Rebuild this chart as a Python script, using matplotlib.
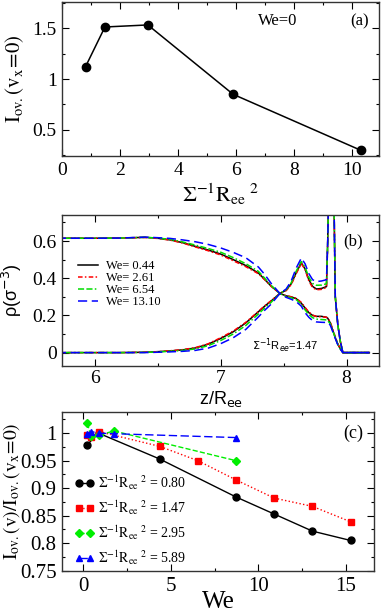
import numpy as np
import matplotlib
matplotlib.use("Agg")
import matplotlib.pyplot as plt
from matplotlib.ticker import MultipleLocator, FormatStrFormatter

plt.rcParams['font.family'] = ['Liberation Serif', 'DejaVu Serif']
plt.rcParams['mathtext.fontset'] = 'stix'

# panel (a)
sig_a = [0.80, 1.47, 2.95, 5.89, 10.3]
iov_a = [1.12, 1.51, 1.53, 0.85, 0.30]

# panel (b): density profiles, A = species decaying toward the wall, B = species rising
z_b = [5.70, 6.00, 6.20, 6.40, 6.50, 6.60, 6.70, 6.80, 6.90, 7.00, 7.10, 7.20,
       7.30, 7.35, 7.40, 7.47, 7.52, 7.56, 7.60, 7.64, 7.67, 7.70, 7.73, 7.76,
       7.80, 7.84, 7.85, 7.87, 7.89, 7.91, 7.93, 7.95, 7.97, 8.00, 8.18]

rhoA_044 = [0.615, 0.615, 0.616, 0.620, 0.615, 0.606, 0.591, 0.571, 0.552, 0.530, 0.500, 0.468,
            0.428, 0.393, 0.358, 0.318, 0.305, 0.300, 0.290, 0.266, 0.240, 0.215, 0.200, 0.195,
            0.195, 0.190, 0.185, 0.160, 0.120, 0.080, 0.045, 0.020, 0.000, 0.000, 0.000]
rhoB_044 = [0.000, 0.000, 0.000, 0.002, 0.005, 0.009, 0.015, 0.025, 0.045, 0.076, 0.112, 0.160,
            0.220, 0.250, 0.277, 0.318, 0.336, 0.370, 0.430, 0.483, 0.450, 0.392, 0.356, 0.342,
            0.345, 0.355, 0.600, 1.300, 1.300, 0.300, 0.150, 0.060, 0.000, 0.000, 0.000]

rhoA_261 = [0.615, 0.615, 0.616, 0.619, 0.614, 0.605, 0.589, 0.568, 0.548, 0.525, 0.494, 0.462,
            0.424, 0.392, 0.357, 0.318, 0.306, 0.300, 0.292, 0.270, 0.243, 0.218, 0.202, 0.194,
            0.193, 0.190, 0.186, 0.165, 0.125, 0.085, 0.048, 0.022, 0.000, 0.000, 0.000]
rhoB_261 = [0.000, 0.000, 0.000, 0.002, 0.005, 0.010, 0.016, 0.027, 0.047, 0.080, 0.116, 0.163,
            0.222, 0.252, 0.279, 0.318, 0.333, 0.365, 0.425, 0.478, 0.448, 0.385, 0.350, 0.338,
            0.340, 0.350, 0.600, 1.300, 1.300, 0.300, 0.150, 0.060, 0.000, 0.000, 0.000]

rhoA_654 = [0.615, 0.615, 0.616, 0.620, 0.616, 0.609, 0.595, 0.578, 0.560, 0.540, 0.511, 0.478,
            0.437, 0.400, 0.362, 0.318, 0.302, 0.295, 0.285, 0.260, 0.230, 0.205, 0.188, 0.180,
            0.178, 0.176, 0.172, 0.155, 0.118, 0.080, 0.045, 0.020, 0.000, 0.000, 0.000]
rhoB_654 = [0.000, 0.000, 0.000, 0.001, 0.004, 0.007, 0.012, 0.020, 0.037, 0.065, 0.100, 0.146,
            0.208, 0.240, 0.270, 0.318, 0.338, 0.375, 0.438, 0.490, 0.460, 0.405, 0.372, 0.362,
            0.363, 0.370, 0.600, 1.300, 1.300, 0.300, 0.150, 0.060, 0.000, 0.000, 0.000]

rhoA_1310 = [0.615, 0.615, 0.616, 0.621, 0.618, 0.614, 0.606, 0.596, 0.582, 0.563, 0.539, 0.510,
             0.460, 0.420, 0.373, 0.318, 0.297, 0.287, 0.274, 0.250, 0.215, 0.190, 0.172, 0.165,
             0.163, 0.162, 0.160, 0.148, 0.112, 0.076, 0.042, 0.018, 0.000, 0.000, 0.000]
rhoB_1310 = [0.000, 0.000, 0.000, 0.000, 0.002, 0.004, 0.007, 0.012, 0.024, 0.048, 0.080, 0.125,
             0.192, 0.228, 0.260, 0.318, 0.342, 0.385, 0.455, 0.508, 0.478, 0.425, 0.392, 0.382,
             0.385, 0.392, 0.600, 1.300, 1.300, 0.300, 0.150, 0.060, 0.000, 0.000, 0.000]

we_labels = ['We= 0.44', 'We= 2.61', 'We= 6.54', 'We= 13.10']

# panel (c)
we_080 = [0.22, 0.87, 4.36, 8.72, 10.9, 13.08, 15.26]
rat_080 = [0.979, 1.000, 0.953, 0.884, 0.853, 0.822, 0.805]
we_147 = [0.22, 0.44, 0.87, 4.36, 6.54, 8.72, 10.9, 13.08, 15.26]
rat_147 = [0.997, 0.993, 1.003, 0.976, 0.950, 0.915, 0.882, 0.867, 0.839]
we_295 = [0.22, 0.44, 0.87, 1.74, 8.72]
rat_295 = [1.018, 0.995, 0.996, 1.004, 0.950]
we_589 = [0.22, 0.44, 0.87, 1.74, 8.72]
rat_589 = [0.998, 1.003, 1.000, 0.999, 0.992]
sig_labels = ['0.80', '1.47', '2.95', '5.89']

W, H = 382, 613
fig = plt.figure(figsize=(W / 100, H / 100), dpi=100)


def px_axes(x0, x1, y0, y1):
    return fig.add_axes([x0 / W, 1 - y1 / H, (x1 - x0) / W, (y1 - y0) / H])


def style(ax, xmaj, xmin, ymaj, ymin, size=14, xpad=4):
    ax.xaxis.set_major_locator(MultipleLocator(xmaj))
    ax.xaxis.set_minor_locator(MultipleLocator(xmin))
    ax.yaxis.set_major_locator(MultipleLocator(ymaj))
    ax.yaxis.set_minor_locator(MultipleLocator(ymin))
    ax.yaxis.set_major_formatter(FormatStrFormatter('%g'))
    ax.xaxis.set_major_formatter(FormatStrFormatter('%g'))
    ax.tick_params(which='both', direction='in', top=True, right=True, labelsize=size, width=0.8)
    ax.tick_params(which='major', length=5, pad=4)
    ax.tick_params(axis='x', which='major', pad=xpad)
    ax.tick_params(which='minor', length=2.5)
    for s in ax.spines.values():
        s.set_linewidth(1.0)
        s.set_color('#333333')


# ---- (a)
ax1 = px_axes(62.3, 379, 2, 156)
ax1.plot(sig_a, iov_a, color='black', lw=1.1, marker='o', ms=6)
ax1.set_xlim(0, 10.92)
ax1.set_ylim(0.245, 1.755)
style(ax1, 2, 1, 0.5, 0.25)
ax1.set_xlabel(r'$\Sigma^{-1}\mathrm{R_{ee}}^{\ 2}$', fontsize=16)
ax1.xaxis.set_label_coords(0.5, -0.165)
ax1.set_ylabel(r'$\mathrm{I_{ov.}(v_x\!=\!0)}$', fontsize=15)
ax1.yaxis.set_label_coords(-0.115, 0.5)
ax1.text(0.68, 0.876, 'We=0', transform=ax1.transAxes, ha='center', va='center', fontsize=12)
ax1.text(0.94, 0.876, '(a)', transform=ax1.transAxes, ha='center', va='center', fontsize=12)

# ---- (b)
ax2 = px_axes(62.3, 379, 215, 366)
colors = ['black', 'red', '#00dd00', 'blue']
styles = ['-', (0, (3, 1.5, 1, 1.5)), (0, (4, 1.5, 4, 1.5, 1, 1.5)), (0, (6, 3))]
rhoA = [rhoA_044, rhoA_261, rhoA_654, rhoA_1310]
rhoB = [rhoB_044, rhoB_261, rhoB_654, rhoB_1310]
for i in range(4):
    ax2.plot(z_b, rhoA[i], color=colors[i], ls=styles[i], lw=1.1, label=we_labels[i])
    ax2.plot(z_b, rhoB[i], color=colors[i], ls=styles[i], lw=1.1)
ax2.set_xlim(5.743, 8.257)
ax2.set_ylim(-0.072, 0.74)
style(ax2, 1, 0.5, 0.2, 0.1, xpad=3)
ax2.set_xlabel(r'z/R$_{\mathrm{ee}}$', fontsize=13, family='Liberation Sans', math_fontfamily='dejavusans')
ax2.xaxis.set_label_coords(0.5, -0.15)
ax2.set_ylabel(r'ρ(σ$^{-3}$)', fontsize=13, family='Liberation Sans', math_fontfamily='dejavusans')
ax2.yaxis.set_label_coords(-0.12, 0.5)
ax2.text(0.918, 0.823, '(b)', transform=ax2.transAxes, ha='center', va='center', fontsize=12)
ax2.text(7.25, 0.035, r'$\Sigma^{-1}$R$_{ee}$=1.47', ha='left', va='center', fontsize=8,
         family='Liberation Sans', math_fontfamily='dejavusans')
ax2.legend(loc='upper left', bbox_to_anchor=(0.05, 0.70), frameon=False, fontsize=9,
           handlelength=1.6, handletextpad=0.65, labelspacing=0.0, borderpad=0, borderaxespad=0)

# ---- (c)
ax3 = px_axes(62, 374, 411.7, 571)
ax3.plot(we_080, rat_080, color='black', ls='-', lw=1.0, marker='o', ms=5,
         label=r'$\Sigma^{-1}\mathrm{R_{ee}}^{\ 2}$ = ' + sig_labels[0])
ax3.plot(we_147, rat_147, color='red', ls=':', lw=1.0, marker='s', ms=4.5,
         label=r'$\Sigma^{-1}\mathrm{R_{ee}}^{\ 2}$ = ' + sig_labels[1])
ax3.plot(we_295, rat_295, color='#00ee00', ls='--', lw=1.0, marker='D', ms=4,
         label=r'$\Sigma^{-1}\mathrm{R_{ee}}^{\ 2}$ = ' + sig_labels[2])
ax3.plot(we_589, rat_589, color='blue', ls=(0, (6, 2.5)), lw=1.0, marker='^', ms=5,
         label=r'$\Sigma^{-1}\mathrm{R_{ee}}^{\ 2}$ = ' + sig_labels[3])
ax3.set_xlim(-1.22, 16.6)
ax3.set_ylim(0.7495, 1.039)
style(ax3, 5, 2.5, 0.05, 0.025, size=15)
ax3.set_xlabel('We', fontsize=18)
ax3.xaxis.set_label_coords(0.5, -0.125)
ax3.set_ylabel(r'$\mathrm{I_{ov.}(v)/I_{ov.}(v_x\!=\!0)}$', fontsize=14)
ax3.yaxis.set_label_coords(-0.128, 0.5)
ax3.text(0.933, 0.864, '(c)', transform=ax3.transAxes, ha='center', va='center', fontsize=13)
ax3.legend(loc='upper left', bbox_to_anchor=(0.04, 0.61), frameon=False, fontsize=10, numpoints=2,
           handlelength=1.4, handletextpad=0.3, labelspacing=0.45, borderpad=0, borderaxespad=0)

fig.savefig('out.png', dpi=100)
